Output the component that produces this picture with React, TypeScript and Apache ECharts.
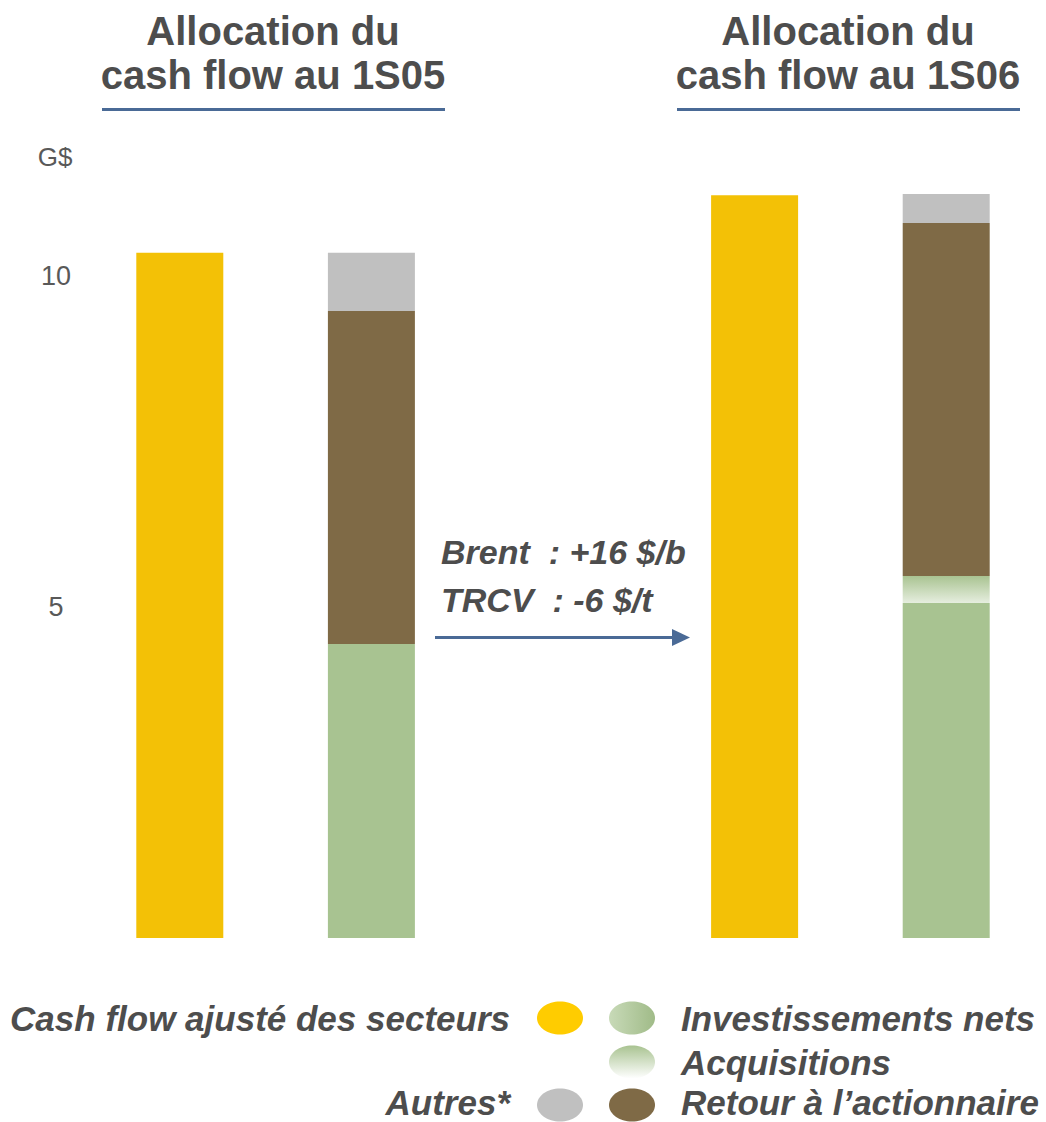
import React, { useEffect, useRef } from "react";
import * as echarts from "echarts";

const categories = ["CF 1S05", "Alloc 1S05", "", "CF 1S06", "Alloc 1S06"];
const cashFlow: (number | string)[] = [10.35, "-", "-", 11.22, "-"];
const investNets: (number | string)[] = ["-", 4.44, "-", "-", 5.06];
const acquisitions: (number | string)[] = ["-", 0, "-", "-", 0.41];
const retour: (number | string)[] = ["-", 5.03, "-", "-", 5.33];
const autres: (number | string)[] = ["-", 0.88, "-", "-", 0.44];
const yTickLabels = [5, 10];

const titles = [
  ["Allocation du", "cash flow au 1S05"],
  ["Allocation du", "cash flow au 1S06"],
];
const annotation = ["Brent  : +16 $/b", "TRCV  : -6 $/t"];
const legendLeft = ["Cash flow ajusté des secteurs", "Autres*"];
const legendRight = ["Investissements nets", "Acquisitions", "Retour à l’actionnaire"];

const FONT = "'Liberation Sans', Arial, sans-serif";
const TXT = "#4d4d4d";
const BLUE = "#4a6a96";
const YELLOW = "#f3c106";
const GREEN = "#a8c391";
const BROWN = "#7f6a46";
const GREY = "#c0c0c0";

export default function App() {
  const ref = useRef<HTMLDivElement>(null);
  useEffect(() => {
    document.body.style.margin = "0";
    if (!ref.current) return;
    const chart = echarts.init(ref.current, undefined, { renderer: "svg" });
    const acqGrad = new echarts.graphic.LinearGradient(0, 0, 0, 1, [
      { offset: 0, color: "#a9c391" },
      { offset: 1, color: "#e6eedf" },
    ]);
    const bar = (name: string, data: (number | string)[], color: any) => ({
      name,
      type: "bar",
      stack: "total",
      data,
      barWidth: 87,
      itemStyle: { color },
      emphasis: { disabled: true },
    });
    const titleEls: any[] = [];
    const centers = [273, 848];
    titles.forEach((t, i) => {
      titleEls.push({
        type: "text",
        style: { text: t[0], x: centers[i], y: 31, textAlign: "center", textVerticalAlign: "middle", font: `bold 40px ${FONT}`, fill: TXT },
      });
      titleEls.push({
        type: "text",
        style: { text: t[1], x: centers[i], y: 75, textAlign: "center", textVerticalAlign: "middle", font: `bold 40px ${FONT}`, fill: TXT },
      });
    });
    const lineEls = [
      { type: "line", shape: { x1: 102, y1: 109.5, x2: 445, y2: 109.5 }, style: { stroke: BLUE, lineWidth: 3 } },
      { type: "line", shape: { x1: 677, y1: 109.5, x2: 1020, y2: 109.5 }, style: { stroke: BLUE, lineWidth: 3 } },
    ];
    const annEls = [
      { type: "text", style: { text: annotation[0], x: 441, y: 552, textVerticalAlign: "middle", font: `italic bold 34px ${FONT}`, fill: TXT } },
      { type: "text", style: { text: annotation[1], x: 441, y: 600, textVerticalAlign: "middle", font: `italic bold 34px ${FONT}`, fill: TXT } },
      { type: "line", shape: { x1: 435, y1: 637.5, x2: 675, y2: 637.5 }, style: { stroke: BLUE, lineWidth: 3 } },
      { type: "polygon", shape: { points: [[672, 629], [690, 637.5], [672, 646]] }, style: { fill: BLUE } },
    ];
    const gLegend = new echarts.graphic.LinearGradient(0, 0, 1, 0, [
      { offset: 0, color: "#c8dab8" },
      { offset: 1, color: "#a0bb88" },
    ]);
    const aLegend = new echarts.graphic.LinearGradient(0, 0, 0, 1, [
      { offset: 0, color: "#a9c391" },
      { offset: 1, color: "#ffffff" },
    ]);
    const lf = `italic bold 35px ${FONT}`;
    const legendEls = [
      { type: "ellipse", shape: { cx: 560, cy: 1018, rx: 23, ry: 16.5 }, style: { fill: "#ffcc00" } },
      { type: "ellipse", shape: { cx: 632, cy: 1018, rx: 23, ry: 16.5 }, style: { fill: gLegend } },
      { type: "ellipse", shape: { cx: 632, cy: 1062, rx: 23, ry: 16.5 }, style: { fill: aLegend } },
      { type: "ellipse", shape: { cx: 560, cy: 1105, rx: 23, ry: 16.5 }, style: { fill: GREY } },
      { type: "ellipse", shape: { cx: 632, cy: 1105, rx: 23, ry: 16.5 }, style: { fill: BROWN } },
      { type: "text", style: { text: legendLeft[0], x: 510, y: 1018, textAlign: "right", textVerticalAlign: "middle", font: lf, fill: TXT } },
      { type: "text", style: { text: legendLeft[1], x: 510, y: 1102, textAlign: "right", textVerticalAlign: "middle", font: lf, fill: TXT } },
      { type: "text", style: { text: legendRight[0], x: 681, y: 1018, textVerticalAlign: "middle", font: lf, fill: TXT } },
      { type: "text", style: { text: legendRight[1], x: 681, y: 1062, textVerticalAlign: "middle", font: lf, fill: TXT } },
      { type: "text", style: { text: legendRight[2], x: 681, y: 1102, textVerticalAlign: "middle", font: lf, fill: TXT } },
      { type: "text", style: { text: "G$", x: 55, y: 157, textAlign: "center", textVerticalAlign: "middle", font: `26px ${FONT}`, fill: "#595959" } },
    ];
    chart.setOption({
      animation: false,
      grid: { left: 84, right: 4, top: 143.6, bottom: 184, containLabel: false },
      xAxis: {
        type: "category",
        data: categories,
        axisLine: { show: false },
        axisTick: { show: false },
        axisLabel: { show: false },
        splitLine: { show: false },
      },
      yAxis: {
        type: "value",
        min: 0,
        max: 12,
        interval: 5,
        axisLine: { show: false },
        axisTick: { show: false },
        splitLine: { show: false },
        axisLabel: {
          margin: 28,
          align: "center",
          fontSize: 27,
          fontFamily: FONT,
          color: "#595959",
          padding: [8, 0, 0, 0],
          formatter: (v: number) => (yTickLabels.includes(v) ? String(v) : ""),
        },
      },
      series: [
        bar("Cash flow ajusté des secteurs", cashFlow, YELLOW),
        bar("Investissements nets", investNets, GREEN),
        bar("Acquisitions", acquisitions, acqGrad),
        bar("Retour à l’actionnaire", retour, BROWN),
        bar("Autres*", autres, GREY),
      ],
      graphic: [...titleEls, ...lineEls, ...annEls, ...legendEls],
    });
    return () => chart.dispose();
  }, []);
  return <div ref={ref} style={{ width: 1046, height: 1122 }} />;
}
